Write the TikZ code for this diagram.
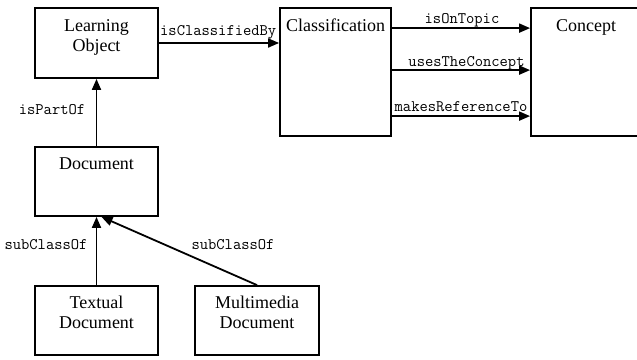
\documentclass[tikz,border=0pt]{standalone}
\usepackage{fontspec}
\setmainfont{Liberation Serif}
\usetikzlibrary{arrows.meta}
\begin{document}
\begin{tikzpicture}[x=1pt,y=-1pt,
  box/.style={draw=black,line width=1.8pt,inner sep=0pt},
  cls/.style={font=\fontsize{18}{19.5}\selectfont,align=center,inner sep=0pt},
  rel/.style={font=\fontsize{16.1}{18}\ttfamily,inner sep=0pt},
  arr/.style={line width=1.8pt,-{Triangle[length=11pt,width=9pt]}}]
\clip (0,0) rectangle (637,359);
% boxes
\node[box,minimum width=123pt,minimum height=70pt] (lo) at (96.5,43) {};
\node[box,minimum width=111pt,minimum height=128pt] (cl) at (335.5,72) {};
\node[box,minimum width=128pt,minimum height=128pt] (co) at (595,72) {};
\node[box,minimum width=123pt,minimum height=69pt] (doc) at (96.5,181.5) {};
\node[box,minimum width=123pt,minimum height=69pt] (tx) at (96.5,320.5) {};
\node[box,minimum width=124pt,minimum height=69pt] (mm) at (257,320.5) {};
% box texts
\node[cls] (tlo) at (96.5,37.5) {Learning\\Object};
\node[cls,anchor=base] (tcl) at (335.5,31) {Classification};
\node[cls,anchor=base] (tco) at (586,31) {Concept};
\node[cls,anchor=base] (tdoc) at (96.5,169) {Document};
\node[cls] (ttx) at (96.5,312.5) {Textual\\Document};
\node[cls] (tmm) at (257,312.5) {Multimedia\\Document};
% connectors
\draw[arr] (lo.east) -- (lo.east -| cl.west);
\draw[arr] ([yshift=-21pt]cl.north east) -- ([yshift=-21pt]co.north west);
\draw[arr] ([yshift=-63pt]cl.north east) -- ([yshift=-63pt]co.north west);
\draw[arr] ([yshift=-109pt]cl.north east) -- ([yshift=-109pt]co.north west);
\draw[arr] (doc.north) -- (lo.south);
\draw[arr] (tx.north) -- (doc.south);
\draw[arr] (mm.north) -- ([xshift=5pt]doc.south);
% labels
\node[rel,anchor=base west] (l1) at (160,35) {isClassifiedBy};
\node[rel,anchor=base] (l2) at (462,23.5) {isOnTopic};
\node[rel,anchor=base] (l3) at (466.5,66) {usesTheConcept};
\node[rel,anchor=base] (l4) at (461,111) {makesReferenceTo};
\node[rel,anchor=base] (l5) at (52,114) {isPartOf};
\node[rel,anchor=base] (l6) at (46,249) {subClassOf};
\node[rel,anchor=base] (l7) at (233,249) {subClassOf};
\end{tikzpicture}
\end{document}
